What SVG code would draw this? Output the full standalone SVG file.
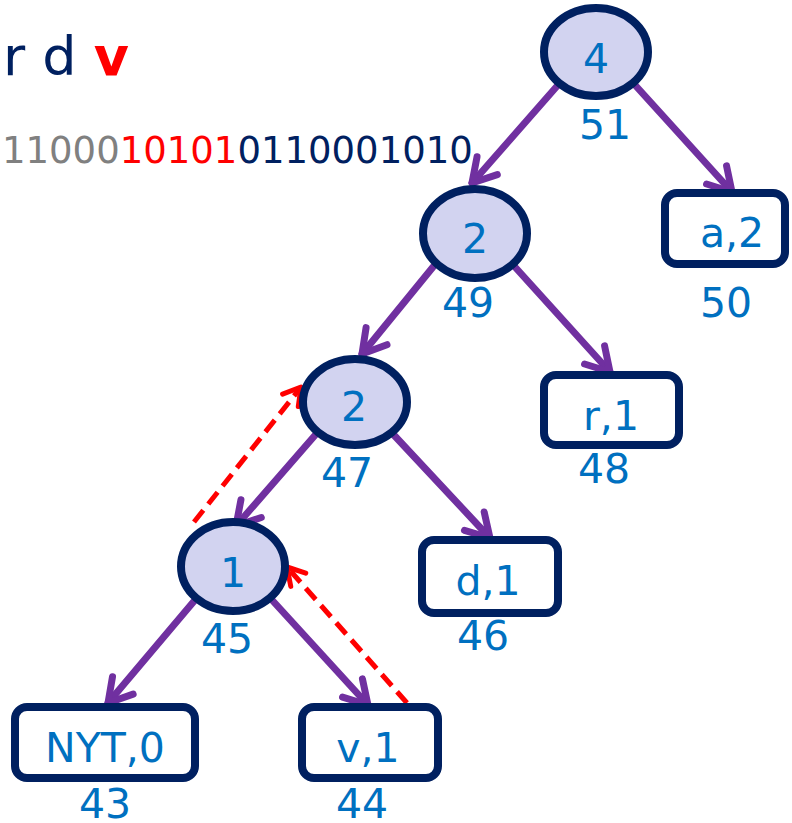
<svg xmlns="http://www.w3.org/2000/svg" width="792" height="823" viewBox="0 0 792 823">
  <style>
    text { font-family: "DejaVu Sans", Verdana, sans-serif; }
    .inner { fill: #D2D3F0; stroke: #002060; stroke-width: 8; }
    .leaf { fill: #FFFFFF; stroke: #002060; stroke-width: 8; }
    .lbl { fill: #0070C0; font-size: 41px; text-anchor: middle; }
    .edge { stroke: #7030A0; stroke-width: 7; stroke-linecap: round; fill: none; marker-end: url(#arrowP); }
    .swap { stroke: #FF0000; stroke-width: 5; stroke-dasharray: 15 8; fill: none; marker-end: url(#arrowR); }
  </style>
  <defs>
    <marker id="arrowP" markerUnits="userSpaceOnUse" markerWidth="60" markerHeight="60" refX="0" refY="0" viewBox="-30 -30 60 60" orient="auto" overflow="visible">
      <path d="M-23,-13.5 L0,0 L-23,13.5" fill="none" stroke="#7030A0" stroke-width="7" stroke-linecap="round" stroke-linejoin="round"/>
    </marker>
    <marker id="arrowR" markerUnits="userSpaceOnUse" markerWidth="50" markerHeight="50" refX="0" refY="0" viewBox="-25 -25 50 50" orient="auto" overflow="visible">
      <path d="M-17,-10 L0,0 L-17,10" fill="none" stroke="#FF0000" stroke-width="5" stroke-linecap="round" stroke-linejoin="round"/>
    </marker>
  </defs>

  <!-- header: symbols and bit stream -->
  <text x="3" y="75" font-size="54" fill="#002060">r d <tspan fill="#FF0000" font-weight="bold">v</tspan></text>
  <text x="2" y="163" font-size="37"><tspan fill="#808080">11000</tspan><tspan fill="#FF0000">10101</tspan><tspan fill="#002060">0110001010</tspan></text>

  <!-- tree edges and swap arrows -->
  <g id="connectors">
    <line class="edge" x1="558" y1="85" x2="472" y2="183"/>
    <line class="edge" x1="635" y1="85" x2="732" y2="192"/>
    <line class="edge" x1="433" y1="267" x2="362" y2="354"/>
    <line class="edge" x1="515" y1="267" x2="610" y2="372"/>
    <line class="edge" x1="317" y1="433" x2="236" y2="526"/>
    <line class="edge" x1="392" y1="433" x2="490" y2="538"/>
    <line class="edge" x1="195" y1="600" x2="108" y2="703"/>
    <line class="edge" x1="272" y1="600" x2="368" y2="705"/>
    <line class="swap" x1="194" y1="522" x2="301" y2="387"/>
    <line class="swap" x1="407" y1="703" x2="287" y2="567"/>
  </g>

  <g id="node51">
    <ellipse class="inner" cx="596" cy="52" rx="52" ry="44"/>
    <text class="lbl" x="596" y="73">4</text>
    <text class="lbl" x="605" y="139">51</text>
  </g>
  <g id="node49">
    <ellipse class="inner" cx="475" cy="233.5" rx="52" ry="44.5"/>
    <text class="lbl" x="475" y="253">2</text>
    <text class="lbl" x="468" y="317">49</text>
  </g>
  <g id="node50">
    <rect class="leaf" x="665" y="193" width="120" height="71" rx="12"/>
    <text class="lbl" x="732" y="247">a,2</text>
    <text class="lbl" x="726" y="317">50</text>
  </g>
  <g id="node47">
    <ellipse class="inner" cx="355" cy="402" rx="52" ry="43"/>
    <text class="lbl" x="354" y="421">2</text>
    <text class="lbl" x="347" y="487">47</text>
  </g>
  <g id="node48">
    <rect class="leaf" x="544" y="375" width="135" height="70" rx="12"/>
    <text class="lbl" x="611" y="430">r,1</text>
    <text class="lbl" x="604" y="483">48</text>
  </g>
  <g id="node45">
    <ellipse class="inner" cx="233" cy="566.5" rx="52" ry="44.5"/>
    <text class="lbl" x="233" y="587">1</text>
    <text class="lbl" x="227" y="653">45</text>
  </g>
  <g id="node46">
    <rect class="leaf" x="422" y="540" width="136" height="73" rx="12"/>
    <text class="lbl" x="488" y="595">d,1</text>
    <text class="lbl" x="483" y="650">46</text>
  </g>
  <g id="node43">
    <rect class="leaf" x="15" y="707" width="180" height="71" rx="12"/>
    <text class="lbl" x="105" y="762">NYT,0</text>
    <text class="lbl" x="105" y="818">43</text>
  </g>
  <g id="node44">
    <rect class="leaf" x="302" y="707" width="136" height="71" rx="12"/>
    <text class="lbl" x="368" y="762">v,1</text>
    <text class="lbl" x="362" y="818">44</text>
  </g>
</svg>
